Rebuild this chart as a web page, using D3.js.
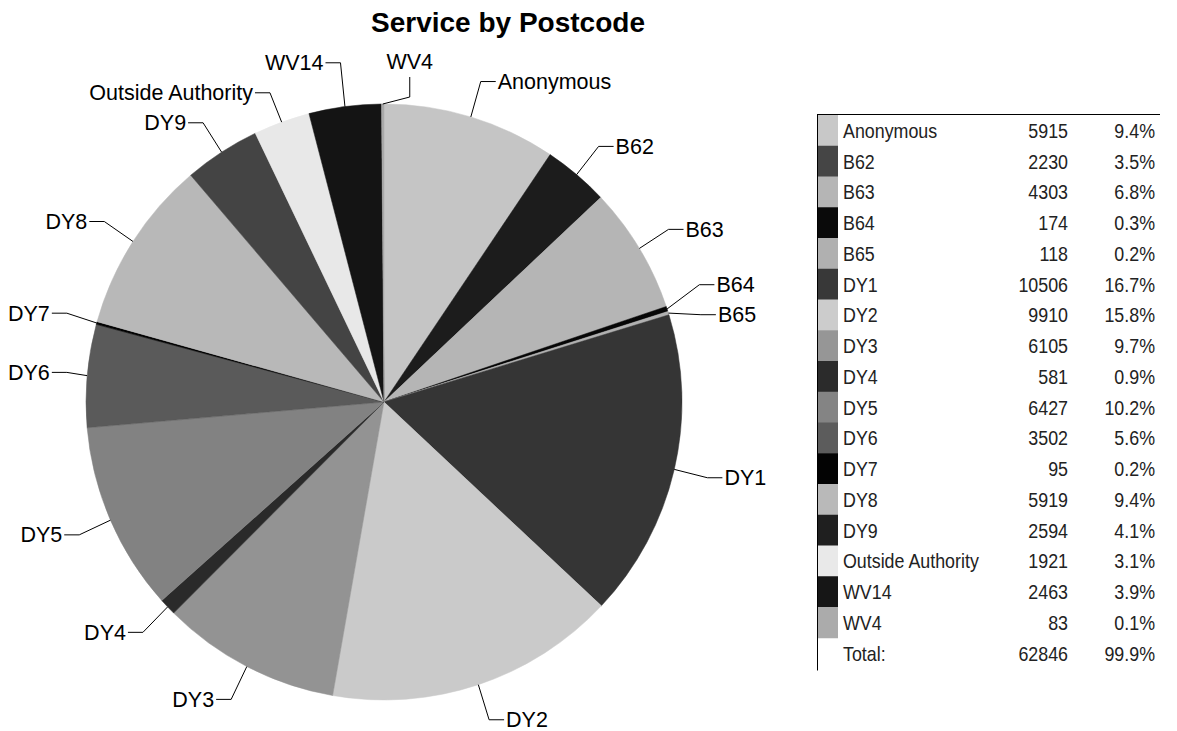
<!DOCTYPE html>
<html>
<head>
<meta charset="utf-8">
<script src="https://cdn.jsdelivr.net/npm/d3@7"></script>
<style>
  body { margin: 0; background: #fff; }
  svg { display: block; }
</style>
</head>
<body>
<div id="content"></div>
<script>
// Postcode areas, clockwise from 12 o'clock
var postcodes = ["Anonymous", "B62", "B63", "B64", "B65", "DY1", "DY2", "DY3", "DY4",
                 "DY5", "DY6", "DY7", "DY8", "DY9", "Outside Authority", "WV14", "WV4"];
var counts = [5915, 2230, 4303, 174, 118, 10506, 9910, 6105, 581,
              6427, 3502, 95, 5919, 2594, 1921, 2463, 83];

// greys used for the slices and for the key swatches (B62 / DY9 differ in the original)
var sliceGreys = ["#c5c5c5", "#1c1c1c", "#b5b5b5", "#060606", "#b0b0b0", "#353535", "#cacaca", "#939393", "#2a2a2a",
                  "#828282", "#5a5a5a", "#030303", "#b8b8b8", "#444444", "#e8e8e8", "#141414", "#a9a9a9"];
var keyGreys = ["#c8c8c8", "#454545", "#b5b5b5", "#0a0a0a", "#b0b0b0", "#383838", "#cccccc", "#969696", "#2b2b2b",
                "#848484", "#5c5c5c", "#030303", "#b9b9b9", "#1f1f1f", "#e9e9e9", "#161616", "#ababab"];

var width = 1177, height = 731;
var cx = 384, cy = 402, radius = 298;

var rows = postcodes.map(function(p, i) {
    return {name: p, count: counts[i], slice: sliceGreys[i], key: keyGreys[i]};
});
var total = d3.sum(counts);
var pct = d3.format(".1f");

var svg = d3.select("#content")
  .append("svg")
  .attr("width", width)
  .attr("height", height);

svg.append("rect").attr("width", width).attr("height", height).attr("fill", "#fff");

// Title
svg.append("text")
  .attr("x", 508)
  .attr("y", 32)
  .attr("text-anchor", "middle")
  .attr("font-family", "Liberation Sans, Arial, sans-serif")
  .attr("font-weight", "bold")
  .attr("font-size", "28px")
  .attr("fill", "#000")
  .text("Service by Postcode");

// Pie
var pie = d3.pie().sort(null).value(function(d) { return d.count; });
var arcs = pie(rows);
var arc = d3.arc().innerRadius(0).outerRadius(radius);

var g = svg.append("g").attr("transform", "translate(" + cx + "," + cy + ")");

g.selectAll("path.slice")
  .data(arcs)
  .enter().append("path")
  .attr("class", "slice")
  .attr("d", arc)
  .attr("fill", function(d) { return d.data.slice; })
  .attr("stroke", function(d) { return d.data.slice; })
  .attr("stroke-width", 0.5);

// Labels with leader lines
var rxLabel = 332, ryLabel = 335;
var lab = g.append("g")
  .attr("font-family", "Liberation Sans, Arial, sans-serif")
  .attr("font-size", "21.5px")
  .attr("fill", "#000");

var labels = arcs.map(function(d) {
    var a = (d.startAngle + d.endAngle) / 2;
    var s = Math.sin(a), c = Math.cos(a);
    var side = s > 0.03 ? 1 : (s < -0.03 ? -1 : 0);
    var l = {
        name: d.data.name,
        side: side,
        ex: radius * s, ey: -radius * c,
        x: rxLabel * s, y: -ryLabel * c
    };
    l.text = lab.append("text")
      .attr("text-anchor", side > 0 ? "start" : (side < 0 ? "end" : "middle"))
      .text(l.name);
    l.w = l.text.node().getComputedTextLength();
    // keep left-hand labels on the page
    if (side < 0 && cx + l.x - 17 - l.w < 8) l.x = 8 + l.w + 17 - cx;
    return l;
});

function span(l) {
    return l.side > 0 ? [l.x, l.x + 17 + l.w] : [l.x - 17 - l.w, l.x];
}

// push labels apart where their texts would overlap
[1, -1].forEach(function(side) {
    var ls = labels.filter(function(l) { return l.side == side; });
    for (var it = 0; it < 80; it++) {
        ls.sort(function(a, b) { return a.y - b.y; });
        for (var k = 1; k < ls.length; k++) {
            for (var j = 0; j < k; j++) {
                var a = span(ls[j]), b = span(ls[k]);
                if (a[1] < b[0] || b[1] < a[0]) continue;
                var gap = ls[k].y - ls[j].y;
                if (gap < 30) {
                    var push = (30 - gap) / 2;
                    ls[k].y += push;
                    ls[j].y -= push;
                }
            }
        }
    }
});

labels.forEach(function(l) {
    if (l.side == 0) {
        // top label: short kink then straight up, text centred above
        var kx = l.ex + 27, ky = l.ey - 7;
        lab.append("polyline")
          .attr("points", [[l.ex, l.ey], [kx, ky], [kx, ky - 20]].join(" "))
          .attr("fill", "none").attr("stroke", "#000").attr("stroke-width", 1);
        l.text.attr("x", kx).attr("y", ky - 28);
        return;
    }
    l.text.attr("x", l.x + l.side * 17).attr("y", l.y + 7.5);
    lab.append("polyline")
      .attr("points", [[l.ex, l.ey], [l.x, l.y], [l.x + l.side * 15, l.y]].join(" "))
      .attr("fill", "none").attr("stroke", "#000").attr("stroke-width", 1);
});

// Key table
var keyTop = 115, rowH = 30.75;
var key = svg.append("g")
  .attr("font-family", "Liberation Sans, Arial, sans-serif")
  .attr("font-size", "21px")
  .attr("fill", "#222");

key.append("line")
  .attr("x1", 817.5).attr("x2", 817.5)
  .attr("y1", keyTop - 1).attr("y2", keyTop + rowH * (rows.length + 1) + 2)
  .attr("stroke", "#000").attr("stroke-width", 1);
key.append("line")
  .attr("x1", 817).attr("x2", 1160)
  .attr("y1", keyTop - 0.5).attr("y2", keyTop - 0.5)
  .attr("stroke", "#000").attr("stroke-width", 1);

key.selectAll("rect.sw")
  .data(rows)
  .enter().append("rect")
  .attr("class", "sw")
  .attr("x", 818)
  .attr("y", function(d, i) { return keyTop + i * rowH; })
  .attr("width", 20)
  .attr("height", rowH + 0.5)
  .attr("fill", function(d) { return d.key; });

var keyRows = rows.map(function(d) {
    return {name: d.name, count: d.count, pct: pct(d.count / total * 100) + "%"};
});
keyRows.push({
    name: "Total:",
    count: total,
    pct: pct(d3.sum(rows, function(d) { return +pct(d.count / total * 100); })) + "%"
});

// condensed look: squeeze the text horizontally
var squeeze = 0.85;
function cell(sel, x, anchor, fn) {
    sel.append("text")
      .attr("transform", "translate(" + x + ",0) scale(" + squeeze + ",1)")
      .attr("text-anchor", anchor)
      .text(fn);
}

var kr = key.selectAll("g.row")
  .data(keyRows)
  .enter().append("g")
  .attr("class", "row")
  .attr("transform", function(d, i) { return "translate(0," + (keyTop + i * rowH + rowH / 2 + 7.5) + ")"; });

cell(kr, 843, "start", function(d) { return d.name; });
cell(kr, 1068, "end", function(d) { return d.count; });
cell(kr, 1155, "end", function(d) { return d.pct; });
</script>
</body>
</html>
